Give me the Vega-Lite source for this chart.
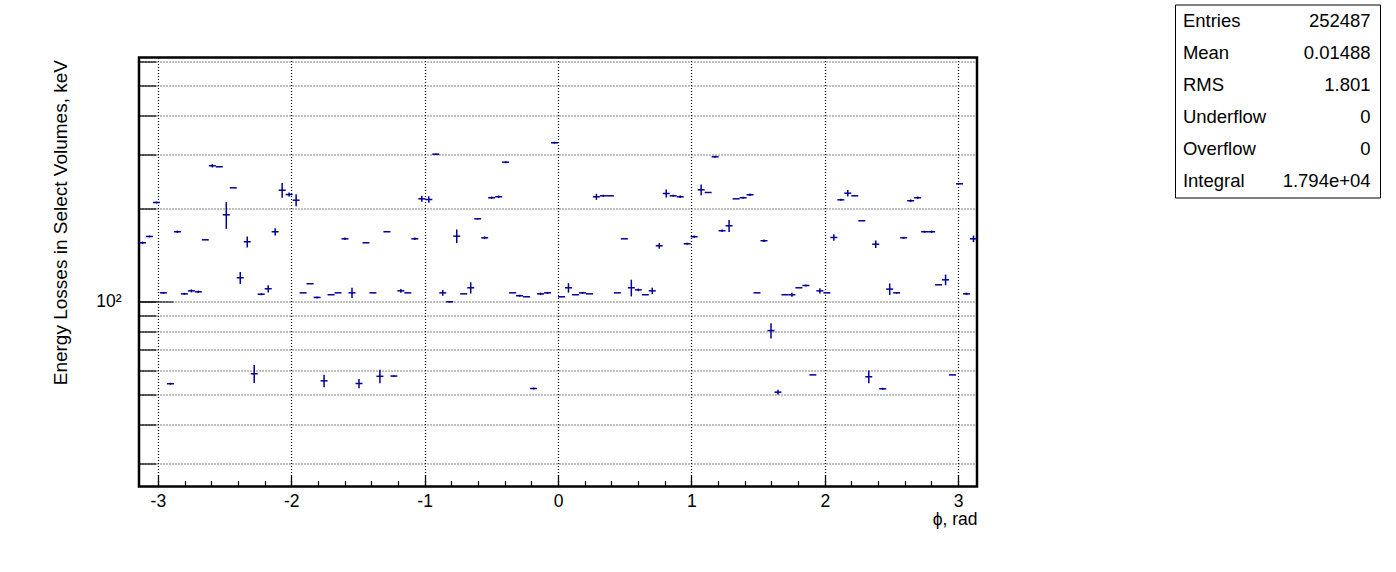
{
  "$schema": "https://vega.github.io/schema/vega-lite/v6.json",
  "background": "white",
  "padding": {"left": 50, "top": 3.5, "right": 5, "bottom": 5},
  "config": {
    "view": {"stroke": null},
    "font": "Liberation Sans",
    "axis": {"labelColor": "black", "titleColor": "black", "titleFontWeight": "normal", "tickColor": "black"}
  },
  "spacing": 195,
  "hconcat": [
    {
      "spacing": 10,
      "vconcat": [
        {
          "width": 838,
          "height": 35.25,
          "data": {"values": [{"s": 0}]},
          "mark": {"type": "point", "opacity": 0}
        },
        {
          "width": 838,
          "height": 429,
          "view": {"stroke": "black", "strokeWidth": 2.5},
          "data": {"values": [
{"a":-3.1416,"b":-3.0892,"c":-3.1154,"v":155.2,"lo":153.7,"hi":156.7},
{"a":-3.0892,"b":-3.0369,"c":-3.0631,"v":162.7,"lo":161.5,"hi":163.9},
{"a":-3.0369,"b":-2.9845,"c":-3.0107,"v":209.6,"lo":208.0,"hi":211.2},
{"a":-2.9845,"b":-2.9322,"c":-2.9583,"v":106.9,"lo":106.1,"hi":107.7},
{"a":-2.9322,"b":-2.8798,"c":-2.9060,"v":54.3,"lo":53.9,"hi":54.7},
{"a":-2.8798,"b":-2.8274,"c":-2.8536,"v":168.5,"lo":166.9,"hi":170.1},
{"a":-2.8274,"b":-2.7751,"c":-2.8013,"v":106.1,"lo":105.3,"hi":106.9},
{"a":-2.7751,"b":-2.7227,"c":-2.7489,"v":108.5,"lo":107.3,"hi":109.7},
{"a":-2.7227,"b":-2.6704,"c":-2.6965,"v":107.7,"lo":106.7,"hi":108.7},
{"a":-2.6704,"b":-2.6180,"c":-2.6442,"v":158.7,"lo":158.7,"hi":158.7},
{"a":-2.6180,"b":-2.5656,"c":-2.5918,"v":275.5,"lo":272.0,"hi":279.0},
{"a":-2.5656,"b":-2.5133,"c":-2.5395,"v":273.5,"lo":273.5,"hi":273.5},
{"a":-2.5133,"b":-2.4609,"c":-2.4871,"v":191.2,"lo":172.2,"hi":210.2},
{"a":-2.4609,"b":-2.4086,"c":-2.4347,"v":233.8,"lo":233.8,"hi":233.8},
{"a":-2.4086,"b":-2.3562,"c":-2.3824,"v":119.6,"lo":114.3,"hi":124.9},
{"a":-2.3562,"b":-2.3038,"c":-2.3300,"v":156.4,"lo":150.0,"hi":162.8},
{"a":-2.3038,"b":-2.2515,"c":-2.2777,"v":58.5,"lo":54.6,"hi":62.4},
{"a":-2.2515,"b":-2.1991,"c":-2.2253,"v":105.8,"lo":105.0,"hi":106.6},
{"a":-2.1991,"b":-2.1468,"c":-2.1729,"v":110.2,"lo":107.2,"hi":113.2},
{"a":-2.1468,"b":-2.0944,"c":-2.1206,"v":168.5,"lo":163.9,"hi":173.1},
{"a":-2.0944,"b":-2.0420,"c":-2.0682,"v":229.7,"lo":217.2,"hi":242.2},
{"a":-2.0420,"b":-1.9897,"c":-2.0159,"v":222.4,"lo":219.1,"hi":225.7},
{"a":-1.9897,"b":-1.9373,"c":-1.9635,"v":213.2,"lo":203.7,"hi":222.7},
{"a":-1.9373,"b":-1.8850,"c":-1.9111,"v":106.9,"lo":106.9,"hi":106.9},
{"a":-1.8850,"b":-1.8326,"c":-1.8588,"v":114.4,"lo":114.4,"hi":114.4},
{"a":-1.8326,"b":-1.7802,"c":-1.8064,"v":103.3,"lo":102.5,"hi":104.1},
{"a":-1.7802,"b":-1.7279,"c":-1.7541,"v":55.5,"lo":52.9,"hi":58.1},
{"a":-1.7279,"b":-1.6755,"c":-1.7017,"v":105.4,"lo":105.4,"hi":105.4},
{"a":-1.6755,"b":-1.6232,"c":-1.6493,"v":106.9,"lo":106.9,"hi":106.9},
{"a":-1.6232,"b":-1.5708,"c":-1.5970,"v":159.9,"lo":158.4,"hi":161.4},
{"a":-1.5708,"b":-1.5184,"c":-1.5446,"v":106.9,"lo":102.8,"hi":111.0},
{"a":-1.5184,"b":-1.4661,"c":-1.4923,"v":54.4,"lo":52.5,"hi":56.3},
{"a":-1.4661,"b":-1.4137,"c":-1.4399,"v":155.2,"lo":155.2,"hi":155.2},
{"a":-1.4137,"b":-1.3614,"c":-1.3875,"v":106.9,"lo":106.9,"hi":106.9},
{"a":-1.3614,"b":-1.3090,"c":-1.3352,"v":57.4,"lo":54.5,"hi":60.3},
{"a":-1.3090,"b":-1.2566,"c":-1.2828,"v":168.5,"lo":168.5,"hi":168.5},
{"a":-1.2566,"b":-1.2043,"c":-1.2305,"v":57.5,"lo":57.1,"hi":57.9},
{"a":-1.2043,"b":-1.1519,"c":-1.1781,"v":108.5,"lo":106.9,"hi":110.1},
{"a":-1.1519,"b":-1.0996,"c":-1.1257,"v":106.9,"lo":106.9,"hi":106.9},
{"a":-1.0996,"b":-1.0472,"c":-1.0734,"v":159.9,"lo":158.4,"hi":161.4},
{"a":-1.0472,"b":-0.9948,"c":-1.0210,"v":215.4,"lo":210.6,"hi":220.2},
{"a":-0.9948,"b":-0.9425,"c":-0.9687,"v":214.3,"lo":209.2,"hi":219.4},
{"a":-0.9425,"b":-0.8901,"c":-0.9163,"v":300.4,"lo":298.8,"hi":302.0},
{"a":-0.8901,"b":-0.8378,"c":-0.8639,"v":106.9,"lo":104.7,"hi":109.1},
{"a":-0.8378,"b":-0.7854,"c":-0.8116,"v":100.0,"lo":99.5,"hi":100.5},
{"a":-0.7854,"b":-0.7330,"c":-0.7592,"v":163.1,"lo":154.8,"hi":171.4},
{"a":-0.7330,"b":-0.6807,"c":-0.7069,"v":106.1,"lo":106.1,"hi":106.1},
{"a":-0.6807,"b":-0.6283,"c":-0.6545,"v":111.0,"lo":106.3,"hi":115.7},
{"a":-0.6283,"b":-0.5760,"c":-0.6021,"v":185.6,"lo":184.6,"hi":186.6},
{"a":-0.5760,"b":-0.5236,"c":-0.5498,"v":161.1,"lo":159.5,"hi":162.7},
{"a":-0.5236,"b":-0.4712,"c":-0.4974,"v":217.1,"lo":215.0,"hi":219.2},
{"a":-0.4712,"b":-0.4189,"c":-0.4451,"v":218.7,"lo":216.6,"hi":220.8},
{"a":-0.4189,"b":-0.3665,"c":-0.3927,"v":283.0,"lo":280.9,"hi":285.1},
{"a":-0.3665,"b":-0.3142,"c":-0.3403,"v":106.9,"lo":106.9,"hi":106.9},
{"a":-0.3142,"b":-0.2618,"c":-0.2880,"v":104.6,"lo":103.8,"hi":105.4},
{"a":-0.2618,"b":-0.2094,"c":-0.2356,"v":103.8,"lo":103.8,"hi":103.8},
{"a":-0.2094,"b":-0.1571,"c":-0.1833,"v":52.4,"lo":52.0,"hi":52.8},
{"a":-0.1571,"b":-0.1047,"c":-0.1309,"v":106.1,"lo":105.1,"hi":107.1},
{"a":-0.1047,"b":-0.0524,"c":-0.0785,"v":106.9,"lo":106.1,"hi":107.7},
{"a":-0.0524,"b":0,"c":-0.0262,"v":327.1,"lo":324.7,"hi":329.5},
{"a":0,"b":0.0524,"c":0.0262,"v":103.8,"lo":103.8,"hi":103.8},
{"a":0.0524,"b":0.1047,"c":0.0785,"v":111.0,"lo":107.1,"hi":114.9},
{"a":0.1047,"b":0.1571,"c":0.1309,"v":105.4,"lo":105.4,"hi":105.4},
{"a":0.1571,"b":0.2094,"c":0.1833,"v":106.9,"lo":106.1,"hi":107.7},
{"a":0.2094,"b":0.2618,"c":0.2356,"v":106.1,"lo":106.1,"hi":106.1},
{"a":0.2618,"b":0.3142,"c":0.2880,"v":218.7,"lo":213.8,"hi":223.6},
{"a":0.3142,"b":0.3665,"c":0.3403,"v":220.3,"lo":218.7,"hi":221.9},
{"a":0.3665,"b":0.4189,"c":0.3927,"v":220.3,"lo":220.3,"hi":220.3},
{"a":0.4189,"b":0.4712,"c":0.4451,"v":106.9,"lo":106.9,"hi":106.9},
{"a":0.4712,"b":0.5236,"c":0.4974,"v":159.9,"lo":159.9,"hi":159.9},
{"a":0.5236,"b":0.5760,"c":0.5498,"v":111.0,"lo":104.1,"hi":117.9},
{"a":0.5760,"b":0.6283,"c":0.6021,"v":109.3,"lo":108.2,"hi":110.4},
{"a":0.6283,"b":0.6807,"c":0.6545,"v":105.4,"lo":105.4,"hi":105.4},
{"a":0.6807,"b":0.7330,"c":0.7069,"v":108.5,"lo":105.9,"hi":111.1},
{"a":0.7330,"b":0.7854,"c":0.7592,"v":151.8,"lo":148.6,"hi":155.0},
{"a":0.7854,"b":0.8378,"c":0.8116,"v":224.1,"lo":217.4,"hi":230.8},
{"a":0.8378,"b":0.8901,"c":0.8639,"v":220.3,"lo":218.7,"hi":221.9},
{"a":0.8901,"b":0.9425,"c":0.9163,"v":218.7,"lo":216.6,"hi":220.8},
{"a":0.9425,"b":0.9948,"c":0.9687,"v":154.1,"lo":153.0,"hi":155.2},
{"a":0.9948,"b":1.0472,"c":1.0210,"v":162.4,"lo":160.8,"hi":164.0},
{"a":1.0472,"b":1.0996,"c":1.0734,"v":230.4,"lo":221.3,"hi":239.5},
{"a":1.0996,"b":1.1519,"c":1.1257,"v":225.8,"lo":225.8,"hi":225.8},
{"a":1.1519,"b":1.2043,"c":1.1781,"v":294.6,"lo":292.4,"hi":296.8},
{"a":1.2043,"b":1.2566,"c":1.2305,"v":169.8,"lo":168.2,"hi":171.4},
{"a":1.2566,"b":1.3090,"c":1.2828,"v":176.2,"lo":168.3,"hi":184.1},
{"a":1.3090,"b":1.3614,"c":1.3352,"v":215.4,"lo":215.4,"hi":215.4},
{"a":1.3614,"b":1.4137,"c":1.3875,"v":217.1,"lo":215.5,"hi":218.7},
{"a":1.4137,"b":1.4661,"c":1.4399,"v":222.0,"lo":219.8,"hi":224.2},
{"a":1.4661,"b":1.5184,"c":1.4923,"v":106.9,"lo":106.9,"hi":106.9},
{"a":1.5184,"b":1.5708,"c":1.5446,"v":157.6,"lo":156.1,"hi":159.1},
{"a":1.5708,"b":1.6232,"c":1.5970,"v":80.7,"lo":76.1,"hi":85.3},
{"a":1.6232,"b":1.6755,"c":1.6493,"v":51.0,"lo":50.1,"hi":51.9},
{"a":1.6755,"b":1.7279,"c":1.7017,"v":105.4,"lo":105.4,"hi":105.4},
{"a":1.7279,"b":1.7802,"c":1.7541,"v":105.4,"lo":103.8,"hi":107.0},
{"a":1.7802,"b":1.8326,"c":1.8064,"v":111.0,"lo":111.0,"hi":111.0},
{"a":1.8326,"b":1.8850,"c":1.8588,"v":112.9,"lo":112.1,"hi":113.7},
{"a":1.8850,"b":1.9373,"c":1.9111,"v":58.0,"lo":58.0,"hi":58.0},
{"a":1.9373,"b":1.9897,"c":1.9635,"v":108.5,"lo":106.3,"hi":110.7},
{"a":1.9897,"b":2.0420,"c":2.0159,"v":106.9,"lo":106.9,"hi":106.9},
{"a":2.0420,"b":2.0944,"c":2.0682,"v":161.5,"lo":157.5,"hi":165.5},
{"a":2.0944,"b":2.1468,"c":2.1206,"v":213.8,"lo":212.2,"hi":215.4},
{"a":2.1468,"b":2.1991,"c":2.1729,"v":224.6,"lo":219.1,"hi":230.1},
{"a":2.1991,"b":2.2515,"c":2.2253,"v":220.3,"lo":220.3,"hi":220.3},
{"a":2.2515,"b":2.3038,"c":2.2777,"v":182.9,"lo":182.9,"hi":182.9},
{"a":2.3038,"b":2.3562,"c":2.3300,"v":57.2,"lo":54.5,"hi":59.9},
{"a":2.3562,"b":2.4086,"c":2.3824,"v":153.6,"lo":149.3,"hi":157.9},
{"a":2.4086,"b":2.4609,"c":2.4347,"v":52.3,"lo":51.9,"hi":52.7},
{"a":2.4609,"b":2.5133,"c":2.4871,"v":109.9,"lo":105.2,"hi":114.6},
{"a":2.5133,"b":2.5656,"c":2.5395,"v":106.9,"lo":106.3,"hi":107.5},
{"a":2.5656,"b":2.6180,"c":2.5918,"v":161.1,"lo":159.9,"hi":162.3},
{"a":2.6180,"b":2.6704,"c":2.6442,"v":212.3,"lo":210.2,"hi":214.4},
{"a":2.6704,"b":2.7227,"c":2.6965,"v":217.1,"lo":215.0,"hi":219.2},
{"a":2.7227,"b":2.7751,"c":2.7489,"v":168.5,"lo":167.2,"hi":169.8},
{"a":2.7751,"b":2.8274,"c":2.8013,"v":168.5,"lo":166.9,"hi":170.1},
{"a":2.8274,"b":2.8798,"c":2.8536,"v":113.5,"lo":113.5,"hi":113.5},
{"a":2.8798,"b":2.9322,"c":2.9060,"v":117.8,"lo":113.1,"hi":122.5},
{"a":2.9322,"b":2.9845,"c":2.9583,"v":58.0,"lo":58.0,"hi":58.0},
{"a":2.9845,"b":3.0369,"c":3.0107,"v":240.9,"lo":240.9,"hi":240.9},
{"a":3.0369,"b":3.0892,"c":3.0631,"v":106.1,"lo":105.1,"hi":107.1},
{"a":3.0892,"b":3.1416,"c":3.1154,"v":159.9,"lo":156.0,"hi":163.8}
          ]},
          "resolve": {"axis": {"x": "independent", "y": "independent"}},
          "layer": [
            {
              "mark": {"type": "rule", "color": "#000099", "strokeWidth": 1.5},
              "encoding": {
                "x": {
                  "field": "a", "type": "quantitative",
                  "scale": {"domain": [-3.1416, 3.1416], "nice": false, "zero": false},
                  "axis": {
                    "orient": "bottom",
                    "title": "ϕ, rad",
                    "titleFontSize": 17.5,
                    "titleAnchor": "end",
                    "titleAlign": "right",
                    "titleBaseline": "middle",
                    "titleX": 838,
                    "titleY": 33,
                    "values": [-3,-2.8,-2.6,-2.4,-2.2,-2,-1.8,-1.6,-1.4,-1.2,-1,-0.8,-0.6,-0.4,-0.2,0,0.2,0.4,0.6,0.8,1,1.2,1.4,1.6,1.8,2,2.2,2.4,2.6,2.8,3],
                    "labelExpr": "datum.value % 1 == 0 ? '' + datum.value : ''",
                    "labelFontSize": 17.5,
                    "labelPadding": 12,
                    "labelFlush": false,
                    "labelOverlap": false,
                    "domain": false,
                    "tickSize": -6,
                    "tickWidth": 1.2,
                    "grid": true,
                    "gridColor": "black",
                    "gridDash": [1, 2],
                    "gridWidth": 1.2,
                    "gridOpacity": {"condition": {"test": "datum.value % 1 == 0", "value": 1}, "value": 0}
                  }
                },
                "x2": {"field": "b"},
                "y": {
                  "field": "v", "type": "quantitative",
                  "scale": {"type": "log", "domain": [25.25, 617.4], "nice": false},
                  "axis": {
                    "orient": "left",
                    "title": "Energy Losses in Select Volumes, keV",
                    "titleFontSize": 19,
                    "titleAngle": 270,
                    "titleAlign": "right",
                    "titleBaseline": "middle",
                    "titleX": -78.4,
                    "titleY": 2,
                    "values": [30,40,50,60,70,80,90,100,200,300,400,500,600],
                    "labelExpr": "datum.value == 100 ? '10²' : ''",
                    "labelFontSize": 17.5,
                    "labelPadding": 35,
                    "labelOverlap": false,
                    "domain": false,
                    "tickSize": -17,
                    "tickWidth": 1.2,
                    "grid": true,
                    "gridColor": "black",
                    "gridDash": [1, 2],
                    "gridWidth": 1.2
                  }
                }
              }
            },
            {
              "mark": {"type": "rule", "color": "#000099", "strokeWidth": 1.5},
              "encoding": {
                "x": {
                  "field": "c", "type": "quantitative",
                  "axis": {"orient": "bottom", "values": [-3,-2,-1,0,1,2,3], "labels": false, "domain": false, "grid": false, "title": null, "tickSize": -12, "tickWidth": 1.2}
                },
                "y": {
                  "field": "lo", "type": "quantitative",
                  "axis": {"orient": "left", "values": [100], "labels": false, "domain": false, "grid": false, "title": null, "tickSize": -34, "tickWidth": 1.2}
                },
                "y2": {"field": "hi"}
              }
            }
          ]
        }
      ]
    },
    {
      "width": 205,
      "height": 193,
      "view": {"stroke": "black", "strokeWidth": 1},
      "data": {"values": [
        {"k": "Entries", "t": "252487"},
        {"k": "Mean", "t": "0.01488"},
        {"k": "RMS", "t": "1.801"},
        {"k": "Underflow", "t": "0"},
        {"k": "Overflow", "t": "0"},
        {"k": "Integral", "t": "1.794e+04"}
      ]},
      "encoding": {
        "y": {"field": "k", "type": "nominal", "sort": null, "axis": null, "scale": {"type": "point", "padding": 0.5}}
      },
      "layer": [
        {
          "mark": {"type": "text", "align": "left", "baseline": "middle", "fontSize": 18.5, "color": "black"},
          "encoding": {
            "x": {"datum": 0, "type": "quantitative", "scale": {"domain": [-0.042, 1.05], "nice": false, "zero": false}, "axis": null},
            "text": {"field": "k"}
          }
        },
        {
          "mark": {"type": "text", "align": "right", "baseline": "middle", "fontSize": 18.5, "color": "black"},
          "encoding": {
            "x": {"datum": 1, "type": "quantitative"},
            "text": {"field": "t"}
          }
        }
      ]
    }
  ]
}
